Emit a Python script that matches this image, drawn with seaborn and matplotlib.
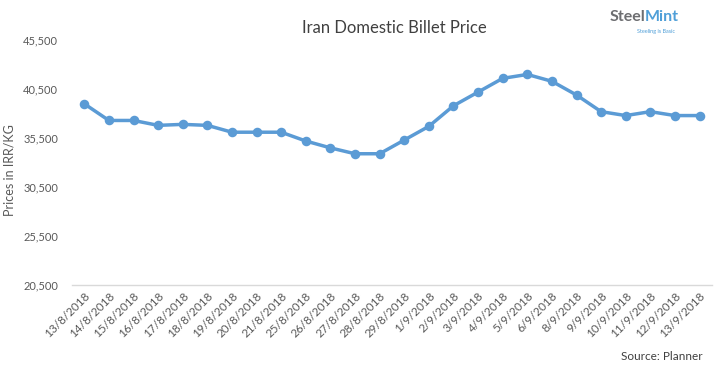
import matplotlib
matplotlib.use("Agg")
import matplotlib.pyplot as plt
import seaborn as sns
import pandas as pd

# Iran domestic billet price, IRR/KG
dates = ['13/8/2018', '14/8/2018', '15/8/2018', '16/8/2018', '17/8/2018', '18/8/2018',
         '19/8/2018', '20/8/2018', '21/8/2018', '25/8/2018', '26/8/2018', '27/8/2018',
         '28/8/2018', '29/8/2018', '1/9/2018', '2/9/2018', '3/9/2018', '4/9/2018',
         '5/9/2018', '6/9/2018', '8/9/2018', '9/9/2018', '10/9/2018', '11/9/2018',
         '12/9/2018', '13/9/2018']
prices = [39000, 37300, 37300, 36800, 36900, 36800,
          36100, 36100, 36100, 35200, 34500, 33900,
          33900, 35300, 36700, 38800, 40200, 41600,
          42000, 41300, 39900, 38200, 37800, 38200,
          37800, 37800]
yticks = [20500, 25500, 30500, 35500, 40500, 45500]

sns.set_theme(style="white")
plt.rcParams['font.family'] = ['Lato', 'DejaVu Sans']

df = pd.DataFrame({'date': dates, 'price': prices})

fig = plt.figure(figsize=(7.23, 3.72), dpi=100)
ax = fig.add_axes([0.0996, 0.234, 0.885, 0.658])

sns.pointplot(data=df, x='date', y='price', color='#5B9BD5', markers='o',
              markersize=5, linewidth=2.5, ax=ax)

ax.set_ylim(20500, 45500)
ax.set_yticks(yticks)
ax.set_yticklabels([f'{v:,}' for v in yticks])
ax.set_xlim(-0.5, len(dates) - 0.5)
ax.set_xlabel('')
ax.set_ylabel('Prices in IRR/KG', fontsize=9, color='#595959')
ax.yaxis.set_label_coords(-0.088, 0.47)

for s in ['top', 'right', 'left']:
    ax.spines[s].set_visible(False)
ax.spines['bottom'].set_color('#D9D9D9')
ax.spines['bottom'].set_linewidth(1)

ax.tick_params(axis='y', labelsize=8, labelcolor='#595959', length=0, pad=10)
ax.tick_params(axis='x', labelsize=8.5, labelcolor='#595959', length=0, pad=4)
plt.setp(ax.get_xticklabels(), rotation=45, ha='right', rotation_mode='anchor')

fig.text(0.545, 0.925, 'Iran Domestic Billet Price', ha='center', va='center',
         fontsize=12, color='#404040')
fig.text(0.972, 0.043, 'Source: Planner', ha='right', va='center',
         fontsize=8.5, color='#404040')

# logo text
fig.text(0.892, 0.955, 'Steel', ha='right', va='center', fontsize=11.5,
         fontweight='bold', color='#6D6E71')
fig.text(0.892, 0.955, 'Mint', ha='left', va='center', fontsize=11.5,
         fontweight='bold', color='#4F9FD8')
fig.text(0.907, 0.915, 'Steeling is Basic', ha='center', va='center',
         fontsize=4, color='#4F9FD8')

fig.savefig('out.png', dpi=100)
